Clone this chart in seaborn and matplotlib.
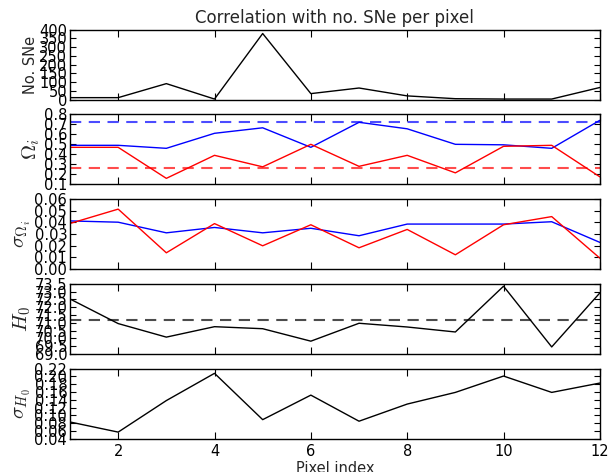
import numpy as np
import pandas as pd
import matplotlib
matplotlib.use("Agg")
import matplotlib.pyplot as plt
import seaborn as sns

pixel = [1, 2, 3, 4, 5, 6, 7, 8, 9, 10, 11, 12]
n_sne = [11, 11, 91, 3, 377, 34, 66, 21, 5, 3, 3, 69]
omega_l = [0.49, 0.49, 0.46, 0.61, 0.665, 0.47, 0.72, 0.655, 0.50, 0.495, 0.46, 0.74]
omega_m = [0.47, 0.47, 0.16, 0.39, 0.275, 0.50, 0.28, 0.39, 0.215, 0.48, 0.49, 0.175]
sig_l = [0.0413, 0.0402, 0.0311, 0.0357, 0.0311, 0.0350, 0.0286, 0.0386, 0.0386, 0.0386, 0.0406, 0.0229]
sig_m = [0.0391, 0.0514, 0.0140, 0.0390, 0.0200, 0.0380, 0.0183, 0.0340, 0.0123, 0.0380, 0.0450, 0.0094]
h0 = [72.53, 70.95, 70.08, 70.75, 70.62, 69.82, 70.97, 70.73, 70.41, 73.35, 69.45, 72.92]
sig_h0 = [0.083, 0.057, 0.138, 0.208, 0.089, 0.152, 0.085, 0.129, 0.159, 0.201, 0.159, 0.183]
ref_omega_l = 0.72
ref_omega_m = 0.26
ref_h0 = 71.15

df = pd.DataFrame({"pixel": pixel, "n": n_sne, "ol": omega_l, "om": omega_m,
                   "sl": sig_l, "sm": sig_m, "h0": h0, "sh0": sig_h0})

sns.set_style("ticks")
plt.rcParams.update({
    "font.family": ["DejaVu Sans"],
    "mathtext.fontset": "cm",
    "xtick.direction": "in", "ytick.direction": "in",
    "xtick.top": True, "ytick.right": True,
    "xtick.major.size": 5, "ytick.major.size": 4,
    "xtick.labelsize": 10.5, "ytick.labelsize": 10.5,
    "axes.linewidth": 1.0, "axes.edgecolor": "black",
    "xtick.color": "black", "ytick.color": "black",
})

fig, axes = plt.subplots(5, 1, figsize=(6.14, 4.72), dpi=100, sharex=True)
fig.subplots_adjust(left=0.114, right=0.977, top=0.9375, bottom=0.0705, hspace=0.21)

dash = (5.4, 3.6)
ax = axes[0]
sns.lineplot(data=df, x="pixel", y="n", ax=ax, color="k", lw=1)
ax.set_ylim(0, 400)
ax.set_yticks(np.arange(0, 401, 50))
ax.set_ylabel("No. SNe", fontsize=10.5, labelpad=1)
ax.set_title("Correlation with no. SNe per pixel", fontsize=12, pad=5)

ax = axes[1]
sns.lineplot(data=df, x="pixel", y="ol", ax=ax, color="b", lw=1)
sns.lineplot(data=df, x="pixel", y="om", ax=ax, color="r", lw=1)
ax.axhline(ref_omega_l, color="b", lw=1.5, alpha=0.7, dashes=dash)
ax.axhline(ref_omega_m, color="r", lw=1.5, alpha=0.7, dashes=dash)
ax.set_ylim(0.1, 0.8)
ax.set_yticks(np.arange(0.1, 0.81, 0.1))
ax.set_ylabel(r"$\Omega_i$", fontsize=15, labelpad=1)

ax = axes[2]
sns.lineplot(data=df, x="pixel", y="sl", ax=ax, color="b", lw=1)
sns.lineplot(data=df, x="pixel", y="sm", ax=ax, color="r", lw=1)
ax.set_ylim(0, 0.06)
ax.set_yticks(np.arange(0, 0.061, 0.01))
ax.set_ylabel(r"$\sigma_{\Omega_i}$", fontsize=15, labelpad=1)

ax = axes[3]
sns.lineplot(data=df, x="pixel", y="h0", ax=ax, color="k", lw=1)
ax.axhline(ref_h0, color="k", lw=1.5, alpha=0.7, dashes=dash)
ax.set_ylim(69, 73.5)
ax.set_yticks(np.arange(69, 73.51, 0.5))
ax.set_ylabel(r"$H_0$", fontsize=15, labelpad=1)

ax = axes[4]
sns.lineplot(data=df, x="pixel", y="sh0", ax=ax, color="k", lw=1)
ax.set_ylim(0.04, 0.22)
ax.set_yticks(np.arange(0.04, 0.221, 0.02))
ax.set_ylabel(r"$\sigma_{H_0}$", fontsize=15, labelpad=1)
ax.set_xlabel("Pixel index", fontsize=10.5, labelpad=1)

for a in axes:
    a.set_xlim(1, 12)
    a.set_xticks([2, 4, 6, 8, 10, 12])
    a.tick_params(axis="y", pad=2)
    a.tick_params(axis="x", pad=4)
    for s in a.spines.values():
        s.set_visible(True)
for a in axes[:-1]:
    a.set_xlabel("")
    a.tick_params(labelbottom=False)

fig.savefig("out.png", dpi=100)
